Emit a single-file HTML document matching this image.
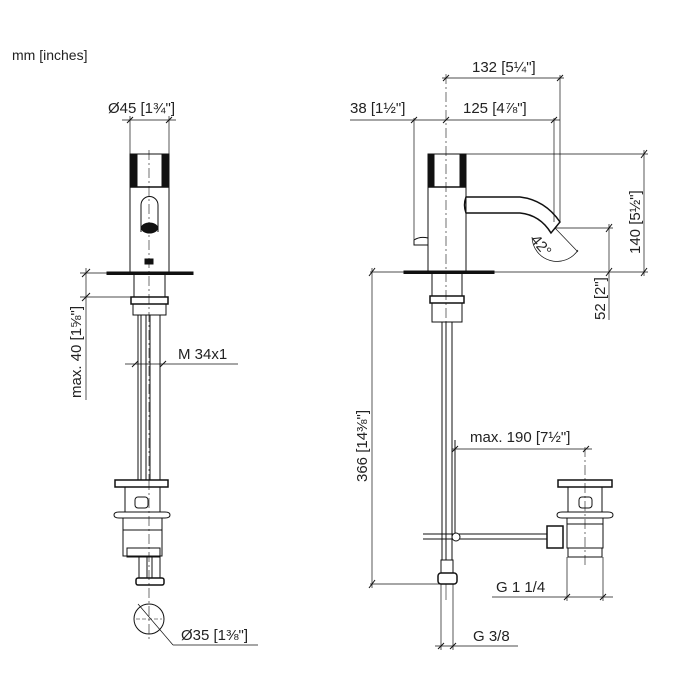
<!DOCTYPE html>
<html><head><meta charset="utf-8"><style>
html,body{margin:0;padding:0;background:#fff;width:700px;height:700px;overflow:hidden}
svg text{font-family:"Liberation Sans",sans-serif;fill:#222}
</style></head><body>
<svg width="700" height="700" viewBox="0 0 700 700" xmlns="http://www.w3.org/2000/svg">
<g fill="none" stroke="#111" stroke-width="1">
<text x="12" y="60" font-size="14" stroke="none">mm [inches]</text>

<!-- LEFT VIEW -->
<line x1="122" y1="120" x2="176" y2="120" stroke-width="0.7"/>
<line x1="130" y1="116" x2="130" y2="154" stroke-width="0.7"/>
<line x1="169" y1="116" x2="169" y2="154" stroke-width="0.7"/>
<line x1="127" y1="123" x2="133" y2="117"/><line x1="166" y1="123" x2="172" y2="117"/>
<text x="108" y="113" font-size="15" stroke="none">Ø45 [1¾"]</text>
<rect x="130" y="154" width="39" height="119"/>
<rect x="130" y="154" width="7" height="33" fill="#111"/>
<rect x="162" y="154" width="7" height="33" fill="#111"/>
<line x1="130" y1="187" x2="169" y2="187" stroke-width="1.5"/>
<path d="M141 232 V205 A8.5 8.5 0 0 1 158 205 V232"/>
<ellipse cx="149.5" cy="228" rx="8" ry="5" fill="#111"/>
<rect x="145" y="259" width="8" height="5" fill="#111"/>
<line x1="149" y1="150" x2="149" y2="480" stroke-width="0.6" stroke-dasharray="10,3,2,3"/>
<rect x="107" y="272" width="86" height="2.5" fill="#111"/>
<rect x="134" y="274" width="31" height="23"/>
<rect x="131" y="297" width="37" height="7" stroke-width="1.5"/>
<rect x="133" y="304" width="33" height="11"/>
<line x1="138" y1="315" x2="138" y2="480"/><line x1="141" y1="315" x2="141" y2="480"/>
<line x1="146" y1="315" x2="146" y2="480"/><line x1="150" y1="315" x2="150" y2="480"/>
<line x1="160" y1="315" x2="160" y2="480"/>
<line x1="86" y1="268" x2="86" y2="400" stroke-width="0.7"/>
<line x1="80" y1="273" x2="134" y2="273" stroke-width="0.7"/>
<line x1="80" y1="297" x2="134" y2="297" stroke-width="0.7"/>
<line x1="82" y1="277" x2="90" y2="269"/><line x1="82" y1="301" x2="90" y2="293"/>
<text transform="translate(81,398) rotate(-90)" font-size="15" stroke="none">max. 40 [1⅝"]</text>
<line x1="125" y1="364" x2="238" y2="364" stroke-width="0.7"/>
<line x1="132" y1="367" x2="138" y2="361"/><line x1="160" y1="367" x2="166" y2="361"/>
<text x="178" y="359" font-size="15" stroke="none">M 34x1</text>
<rect x="115" y="480" width="53" height="7" stroke-width="1.5"/>
<path d="M125 487 V512 M160 487 V512"/>
<rect x="135" y="497" width="13" height="11" rx="3"/>
<path d="M119 512 H165 Q170 512 170 515 Q170 518 165 518 H119 Q114 518 114 515 Q114 512 119 512Z"/>
<rect x="123" y="518" width="39" height="38"/>
<line x1="123" y1="530" x2="162" y2="530"/>
<rect x="127" y="548" width="33" height="9"/>
<rect x="139" y="557" width="21" height="21"/>
<line x1="147" y1="557" x2="147" y2="578"/><line x1="152" y1="557" x2="152" y2="578"/>
<rect x="136" y="578" width="28" height="7" rx="2" stroke-width="1.5"/>
<line x1="149" y1="480" x2="149" y2="640" stroke-width="0.6" stroke-dasharray="10,3,2,3"/>
<circle cx="149" cy="619" r="15"/>
<line x1="136" y1="619" x2="162" y2="619" stroke-width="0.5" stroke-dasharray="4,2"/>
<line x1="138" y1="604" x2="173" y2="645" stroke-width="0.7"/>
<line x1="173" y1="645" x2="258" y2="645" stroke-width="0.7"/>
<text x="181" y="640" font-size="15" stroke="none">Ø35 [1⅜"]</text>

<!-- RIGHT VIEW -->
<line x1="442" y1="78" x2="564" y2="78" stroke-width="0.7"/>
<line x1="443" y1="81" x2="449" y2="75"/><line x1="557" y1="81" x2="563" y2="75"/>
<text x="472" y="72" font-size="15" stroke="none">132 [5¼"]</text>
<line x1="350" y1="120" x2="560" y2="120" stroke-width="0.7"/>
<line x1="411" y1="123" x2="417" y2="117"/><line x1="443" y1="123" x2="449" y2="117"/><line x1="551" y1="123" x2="557" y2="117"/>
<text x="350" y="113" font-size="15" stroke="none">38 [1½"]</text>
<text x="463" y="113" font-size="15" stroke="none">125 [4⅞"]</text>
<line x1="414" y1="118" x2="414" y2="240" stroke-width="0.7"/>
<line x1="554" y1="118" x2="554" y2="222" stroke-width="0.7"/>
<line x1="560" y1="75" x2="560" y2="222" stroke-width="0.7"/>
<line x1="446" y1="74" x2="446" y2="330" stroke-width="0.6" stroke-dasharray="10,3,2,3"/>
<rect x="428" y="154" width="38" height="118"/>
<rect x="428" y="154" width="6" height="33" fill="#111"/>
<rect x="460" y="154" width="6" height="33" fill="#111"/>
<line x1="428" y1="187" x2="466" y2="187" stroke-width="1.5"/>
<path d="M466 197 H520 Q545 200 560 222 L551 233 Q540 215 520 213 H466 Q463 205 466 197Z" stroke-width="1.5"/>
<path d="M414 240 Q420 236 428 238 M414 240 V245 H428" />
<rect x="404" y="271" width="90" height="2.5" fill="#111"/>
<line x1="466" y1="154" x2="648" y2="154" stroke-width="0.7"/>
<line x1="370" y1="272" x2="648" y2="272" stroke-width="0.7"/>
<line x1="644" y1="150" x2="644" y2="276" stroke-width="0.7"/>
<line x1="641" y1="158" x2="647" y2="150"/><line x1="641" y1="276" x2="647" y2="268"/>
<text transform="translate(640,254) rotate(-90)" font-size="15" stroke="none">140 [5½"]</text>
<line x1="555" y1="228" x2="613" y2="228" stroke-width="0.7"/>
<line x1="609" y1="224" x2="609" y2="320" stroke-width="0.7"/>
<line x1="606" y1="232" x2="612" y2="224"/><line x1="606" y1="276" x2="612" y2="268"/>
<text transform="translate(605,320) rotate(-90)" font-size="15" stroke="none">52 [2"]</text>
<line x1="555" y1="228" x2="578" y2="252" stroke-width="0.7"/>
<path d="M532 237 A25 25 0 0 0 578 250" stroke-width="0.7"/>
<text transform="translate(530,240) rotate(50)" font-size="15" stroke="none">42°</text>
<rect x="432" y="273" width="30" height="23"/>
<rect x="430" y="296" width="34" height="7" stroke-width="1.5"/>
<rect x="432" y="303" width="30" height="19"/>
<line x1="442" y1="322" x2="442" y2="560"/><line x1="446" y1="322" x2="446" y2="560"/><line x1="452" y1="322" x2="452" y2="560"/>
<line x1="455" y1="440" x2="455" y2="537"/>
<line x1="372" y1="268" x2="372" y2="588" stroke-width="0.7"/>
<line x1="369" y1="276" x2="375" y2="268"/><line x1="369" y1="588" x2="375" y2="580"/>
<line x1="370" y1="584" x2="442" y2="584" stroke-width="0.7"/>
<text transform="translate(367,482) rotate(-90)" font-size="15" stroke="none">366 [14⅜"]</text>
<line x1="452" y1="449" x2="592" y2="449" stroke-width="0.7"/>
<line x1="452" y1="452" x2="458" y2="446"/><line x1="583" y1="452" x2="589" y2="446"/>
<text x="470" y="442" font-size="15" stroke="none">max. 190 [7½"]</text>
<line x1="585" y1="447" x2="585" y2="565" stroke-width="0.6" stroke-dasharray="10,3,2,3"/>
<rect x="558" y="480" width="54" height="7" stroke-width="1.5"/>
<path d="M568 487 V512 M602 487 V512"/>
<rect x="579" y="497" width="13" height="11" rx="3"/>
<path d="M562 512 H608 Q613 512 613 515 Q613 518 608 518 H562 Q557 518 557 515 Q557 512 562 512Z"/>
<rect x="567" y="518" width="36" height="30"/>
<line x1="567" y1="524" x2="603" y2="524"/>
<rect x="568" y="548" width="34" height="9"/>
<rect x="547" y="526" width="16" height="22" stroke-width="1.5"/>
<line x1="423" y1="534" x2="547" y2="534"/><line x1="423" y1="539" x2="547" y2="539"/>
<circle cx="456" cy="537" r="4" fill="#fff"/>
<path d="M442 539 V560 M452 539 V560"/>
<rect x="441" y="560" width="12" height="13"/>
<rect x="438" y="573" width="19" height="11" rx="3" stroke-width="1.5"/>
<line x1="446" y1="584" x2="446" y2="600" stroke-width="0.6"/>
<line x1="567" y1="557" x2="567" y2="601" stroke-width="0.7"/>
<line x1="603" y1="557" x2="603" y2="601" stroke-width="0.7"/>
<line x1="492" y1="597" x2="613" y2="597" stroke-width="0.7"/>
<line x1="564" y1="600" x2="570" y2="594"/><line x1="600" y1="600" x2="606" y2="594"/>
<text x="496" y="592" font-size="15" stroke="none">G 1 1/4</text>
<line x1="441" y1="584" x2="441" y2="650" stroke-width="0.7"/>
<line x1="453" y1="584" x2="453" y2="650" stroke-width="0.7"/>
<line x1="435" y1="646" x2="518" y2="646" stroke-width="0.7"/>
<line x1="438" y1="649" x2="444" y2="643"/><line x1="450" y1="649" x2="456" y2="643"/>
<text x="473" y="641" font-size="15" stroke="none">G 3/8</text>
</g>
</svg>
</body></html>
